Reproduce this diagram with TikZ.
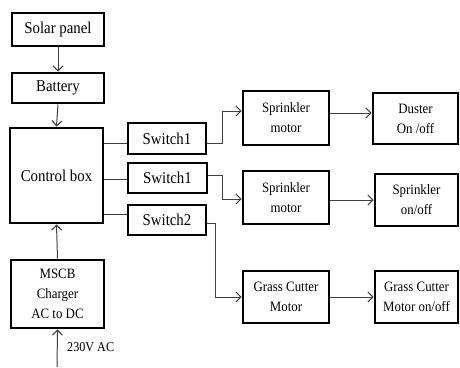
\documentclass[tikz,border=0pt]{standalone}
\usepackage{fontspec}
\setmainfont[FakeStretch=0.9]{Liberation Serif}
\usetikzlibrary{arrows.meta}
\begin{document}
\begin{tikzpicture}[x=1pt,y=-1pt,
  blk/.style={draw=black,line width=2.8pt,fill=white,align=center,inner sep=1pt,
    font=\fontsize{14.3}{20}\selectfont},
  bigblk/.style={blk,font=\fontsize{16.5}{20}\selectfont},
  conn/.style={draw=black!75,line width=1pt},
  arr/.style={conn,-{Straight Barb[length=5pt,width=10pt,line width=1.1pt]}}]
\useasboundingbox (0,0) rectangle (460,367);
\node[bigblk,minimum width=92,minimum height=33] (solar) at (58,29.5) {Solar panel};
\node[bigblk,minimum width=92,minimum height=30] (battery) at (58,88) {Battery};
\node[bigblk,minimum width=93,minimum height=95] (control) at (56.5,175.5) {Control box};
\node[bigblk,minimum width=78,minimum height=31] (sw1) at (167,138.5) {Switch1};
\node[bigblk,minimum width=79,minimum height=30] (sw1b) at (167.5,178) {Switch1};
\node[bigblk,minimum width=78,minimum height=30] (sw2) at (167,220) {Switch2};
\node[blk,minimum width=93,minimum height=68] (mscb) at (57.5,294) {MSCB\\Charger\\AC to DC};
\node[blk,minimum width=86,minimum height=54] (sm1) at (286,118) {Sprinkler\\motor};
\node[blk,minimum width=85,minimum height=51] (duster) at (415.5,118.5) {Duster\\On /off};
\node[blk,minimum width=86,minimum height=53] (sm2) at (286,197.5) {Sprinkler\\motor};
\node[blk,minimum width=83,minimum height=52] (sponoff) at (416.5,200) {Sprinkler\\on/off};
\node[blk,minimum width=86,minimum height=52] (gc) at (286,297) {Grass Cutter\\Motor};
\node[blk,minimum width=83,minimum height=52] (gcon) at (416.5,297) {Grass Cutter\\Motor on/off};
\coordinate (ac) at (57,367);
\node[anchor=west,inner sep=0pt,font=\fontsize{13.5}{16}\selectfont] (aclabel) at (67,347) {230V AC};

\draw[arr] (solar.south) -- (battery.north);
\draw[arr] (battery.south) -- (control.north);
\draw[arr] (mscb.north) -- (control.south);
\draw[arr] (ac) -- (mscb.south);

\draw[conn] (control.east |- 0,143) -- (sw1.west |- 0,143);
\draw[conn] (control.east |- 0,179) -- (sw1b.west |- 0,179);
\draw[conn] (control.east |- 0,214) -- (sw2.west |- 0,214);

\draw[arr] (sw1.east |- 0,143) -- (222,143) -- (222,111) -- (sm1.west |- 0,111);
\draw[arr] (sw1b.east |- 0,175) -- (222,175) -- (222,199) -- (sm2.west |- 0,199);
\draw[arr] (sw2.east |- 0,223) -- (215,223) -- (215,297) -- (gc.west |- 0,297);

\draw[arr] (sm1.east |- 0,113) -- (duster.west |- 0,113);
\draw[arr] (sm2.east |- 0,200) -- (sponoff.west |- 0,200);
\draw[arr] (gc.east) -- (gcon.west);
\end{tikzpicture}
\end{document}
